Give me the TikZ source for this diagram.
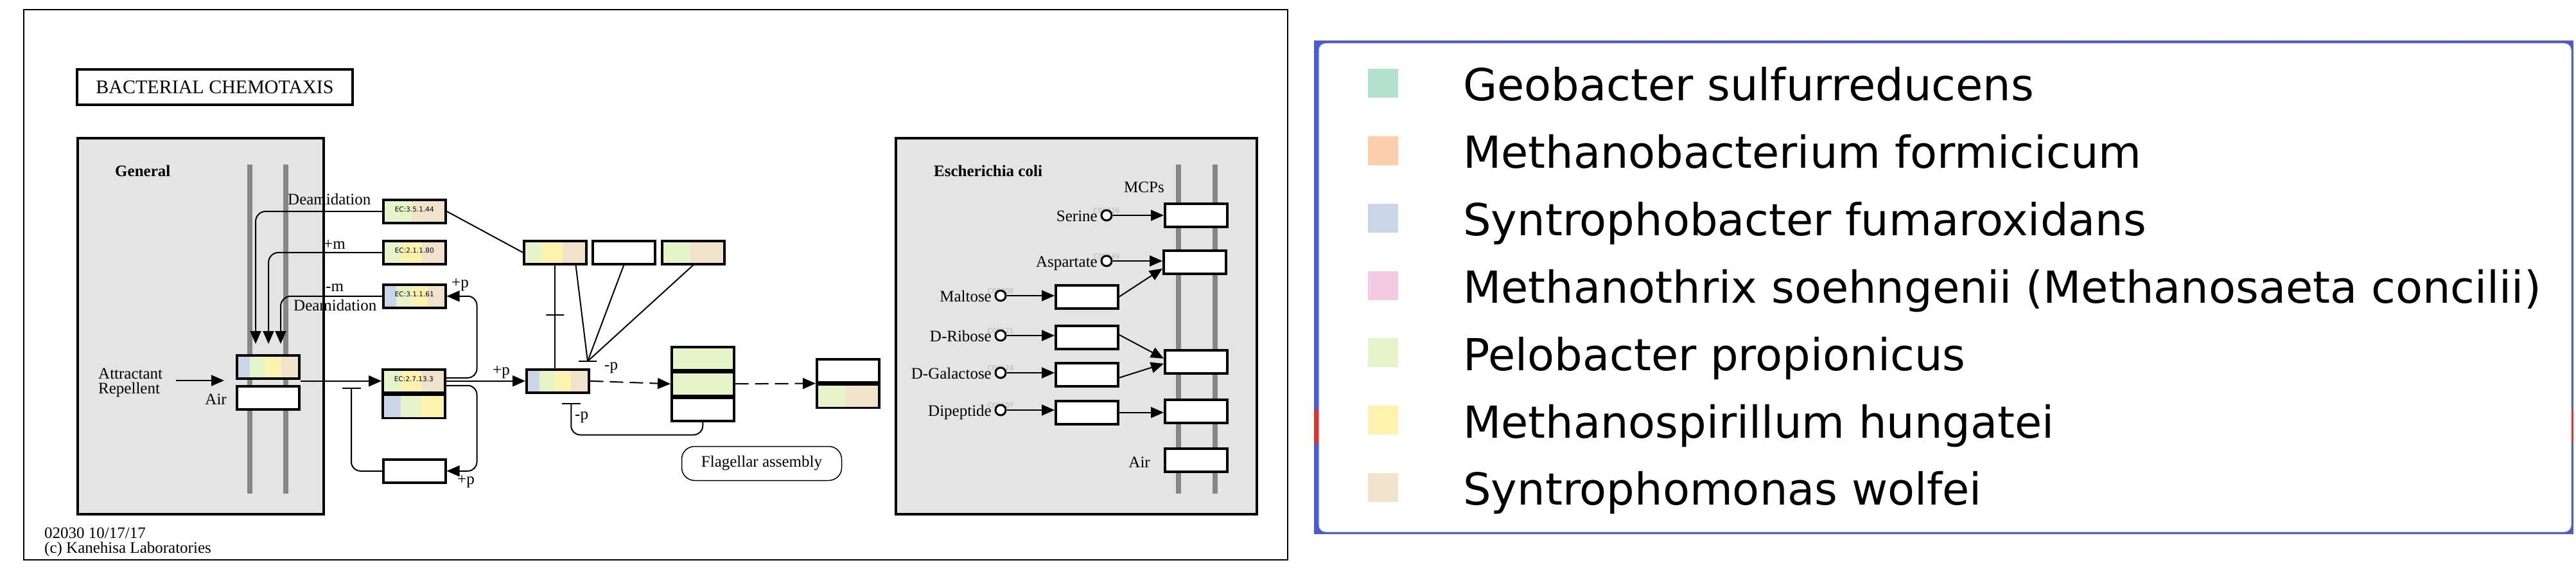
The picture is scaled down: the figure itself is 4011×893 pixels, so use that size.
\documentclass[tikz,border=0pt]{standalone}
\usepackage{fontspec}
\setmainfont{Liberation Serif}
\newfontfamily\ecfont{DejaVu Sans}
\usetikzlibrary{positioning,calc,arrows.meta}
\definecolor{sbf}{HTML}{CBD5E8}
\definecolor{pel}{HTML}{E6F5C9}
\definecolor{msp}{HTML}{FFF2AE}
\definecolor{swo}{HTML}{F1E2CC}
\definecolor{geo}{HTML}{B3E2CD}
\definecolor{mbf}{HTML}{FDCDAC}
\definecolor{mth}{HTML}{F4CAE4}
\definecolor{cellgray}{HTML}{E4E4E4}
\definecolor{membgray}{HTML}{868686}
\definecolor{legblue}{HTML}{4A5CCF}
\definecolor{legred}{HTML}{D03A34}

\begin{document}
\begin{tikzpicture}[x=1pt,y=-1pt,
  gene/.style={draw,line width=3.5pt,fill=white,minimum width=97pt,minimum height=36pt,inner sep=0pt,anchor=north west},
  stripes/.style={path picture={
    \foreach \c [count=\i] in {#1} {\xdef\nstripe{\i}}
    \foreach \c [count=\i from 0] in {#1}
      \fill[\c] ([xshift=\i*97pt/\nstripe-4pt]path picture bounding box.north west) rectangle (path picture bounding box.south east);}},
  ec/.style={font=\ecfont\fontsize{10.5}{12}\selectfont,text depth=6pt},
  cid/.style={font=\ecfont\fontsize{10.5}{12}\selectfont,text=black!30,inner sep=0pt},
  cpd/.style={circle,draw,line width=3pt,fill=white,minimum size=16pt,inner sep=0pt},
  lbl/.style={font=\fontsize{25}{30}\selectfont,inner sep=0pt},
  lblb/.style={font=\fontsize{25}{30}\selectfont\bfseries,inner sep=0pt},
  conn/.style={line width=2pt},
  tbar/.style={draw,line width=2pt,minimum width=28pt,minimum height=0pt,inner sep=0pt,outer sep=0pt},
  dsh/.style={dash pattern=on 21pt off 10pt},
  memb/.style={membgray,line width=8pt},
  >={Triangle[length=20pt,width=17pt]}]
\useasboundingbox (0,0) rectangle (4011,893);
\draw[line width=2pt] (37,15) rectangle (2005,871);
\node[draw,line width=3.5pt,minimum width=429pt,minimum height=55pt,font=\fontsize{30}{36}\selectfont] (title) at (334.5,135.5) {BACTERIAL CHEMOTAXIS};
\draw[fill=cellgray,line width=4pt] (121,215) rectangle (504,800);
\draw[fill=cellgray,line width=4pt] (1395,215) rectangle (1957,800);
\foreach \x in {389,445,1835,1892} \draw[memb] (\x,256) -- (\x,768);
\node[lblb,anchor=base west] (general) at (179,275) {General};
\node[lblb,anchor=base west] (ecoli) at (1454,275) {Escherichia coli};

\node[gene,stripes={sbf,pel,msp,swo}] (mcpG) at (367,551) {};
\node[gene] (aerG) at (367,599) {};
\node[gene,stripes={pel,swo},ec] (cheD) at (595,309) {EC:3.5.1.44};
\node[gene,stripes={pel,msp,swo},ec] (cheR) at (595,373) {EC:2.1.1.80};
\node[gene,stripes={sbf,pel,msp,swo},ec] (cheB) at (595,441) {EC:3.1.1.61};
\node[gene,stripes={pel,msp,swo},ec] (cheA) at (594,573) {EC:2.7.13.3};
\node[gene,stripes={sbf,pel,msp},below=0pt of cheA] (cheW) {};
\node[gene] (cheV) at (595,713) {};
\node[gene,stripes={sbf,pel,msp,swo}] (cheY) at (818,573) {};
\node[gene,stripes={pel,msp,swo}] (cheC) at (814,373) {};
\node[gene] (cheX) at (921,373) {};
\node[gene,stripes={pel,swo}] (cheZ) at (1029,373) {};
\node[gene,stripes={pel}] (fliG) at (1044,538) {};
\node[gene,stripes={pel},below=0pt of fliG] (fliM) {};
\node[gene,below=0pt of fliM] (fliN) {};
\node[gene] (flgA) at (1270,557) {};
\node[gene,stripes={pel,swo},below=0pt of flgA] (flgB) {};
\node[draw,line width=1.5pt,rounded corners=20pt,minimum width=249pt,minimum height=53pt,font=\fontsize{25}{30}\selectfont] (flas) at (1186,721) {Flagellar assembly};

\node[lbl,anchor=base west] (attr) at (153,589) {Attractant};
\node[lbl,anchor=base west] (repl) at (153,612) {Repellent};
\node[lbl,anchor=base east] (airG) at (353,629) {Air};
\node[lbl,anchor=base west] (deam1) at (448,318) {Deamidation};
\node[lbl,anchor=base west] (addm) at (504,387) {+m};
\node[lbl,anchor=base west] (remm) at (507,453) {-m};
\node[lbl,anchor=base west] (deam2) at (457,483) {Deamidation};
\node[lbl,anchor=base west] (pB) at (703,447) {+p};
\node[lbl,anchor=base west] (pV) at (712,753) {+p};
\node[lbl,anchor=base west] (pY) at (767,583) {+p};
\node[lbl,anchor=base west] (mpZ) at (941,575) {-p};
\node[lbl,anchor=base west] (mpN) at (895,652) {-p};

\coordinate (sig) at (274,592);
\coordinate (sigtip) at (349,592);
\draw[conn,->] (sig) -- (sigtip);
\draw[conn,->] (mcpG.south east |- cheA.west) -- (cheA.west);
\draw[conn,->,rounded corners=16pt] (cheD.west) -| ([shift={(31,-16)}]mcpG.north west);
\draw[conn,->,rounded corners=16pt] (cheR.west) -| ([shift={(51,-16)}]mcpG.north west);
\draw[conn,->,rounded corners=16pt] (cheB.west) -| ([shift={(70,-16)}]mcpG.north west);
\draw[conn,->] (cheA.east) -- (cheY.west);
\draw[conn,->,rounded corners=14pt] ([shift={(0,-5)}]cheA.east) -| ([shift={(47,0)}]cheB.east) -- (cheB.east);
\draw[conn,->,rounded corners=14pt] ([shift={(0,7)}]cheA.east) -| ([shift={(47,0)}]cheV.east) -- (cheV.east);
\coordinate (vbar) at (547,603);
\draw[conn,-{Bar[width=29pt]},rounded corners=14pt] (cheV.west) -| (vbar);
\draw[conn] (cheD.east) -- (cheC.west);
\draw[conn] (cheC.south) -- node[tbar,pos=0.48] (cbar) {} (cheC.south |- cheY.north);
\node[tbar] (zbar) at (915,562) {};
\draw[conn] ([shift={(-18,0)}]cheC.south east) -- (zbar.center);
\draw[conn] (cheX.south) -- (zbar.center);
\draw[conn] (cheZ.south) -- (zbar.center);
\draw[conn,dsh,->] (cheY.east) -- (fliM.west);
\draw[conn,dsh,->] (fliM.east) -- (flgA.south west);
\coordinate (ybar) at ([shift={(21,14)}]cheY.south);
\draw[conn,-{Bar[width=29pt]},rounded corners=14pt] (fliN.south) |- ($(ybar)+(0,50)$) -- (ybar);

\node[lbl,anchor=base west] (mcps) at (1750,299) {MCPs};
\node[lbl,anchor=base east] (airE) at (1791,727) {Air};
\node[gene] (tsr) at (1812,315) {};
\node[gene] (tar) at (1810,388) {};
\node[gene] (trg) at (1812,543) {};
\node[gene] (tap) at (1812,620) {};
\node[gene] (aerE) at (1812,696) {};
\node[gene] (malE) at (1642,442) {};
\node[gene] (rbsB) at (1642,505) {};
\node[gene] (mglB) at (1642,563) {};
\node[gene] (dppA) at (1642,622) {};
\foreach \n/\x/\y/\t/\id in {ser/1723/335/Serine/C00716,asp/1723/406/Aspartate/C00049,mal/1558/460/Maltose/C00208,rib/1558/522/D-Ribose/C00121,gal/1558/580/D-Galactose/C00124,dip/1558/638/Dipeptide/C00107} {
  \node[cid] (\n-id) at (\x,\y-7) {\id};
  \node[cpd] (\n) at (\x,\y) {};
  \node[lbl,anchor=base east] (\n-lbl) at (\x-14,\y+9) {\t};
}
\draw[conn,->] (ser) -- (ser -| tsr.west);
\draw[conn,->] (asp) -- (asp -| tar.west);
\draw[conn,->] (mal) -- (mal -| malE.west);
\draw[conn,->] (rib) -- (rib -| rbsB.west);
\draw[conn,->] (gal) -- (gal -| mglB.west);
\draw[conn,->] (dip) -- (dip -| dppA.west);
\draw[conn,->] (malE.east) -- ([shift={(0,10)}]tar.west);
\draw[conn,->] ([shift={(0,-4)}]rbsB.east) -- ([shift={(0,-5)}]trg.west);
\draw[conn,->] ([shift={(0,5)}]mglB.east) -- ([shift={(0,3)}]trg.west);
\draw[conn,->] (dppA.east) -- (dppA.east -| tap.west);

\node[lbl,anchor=base west] (code) at (69,837) {02030 10/17/17};
\node[lbl,anchor=base west] (copy) at (69,860) {(c) Kanehisa Laboratories};

\fill[legblue] (2046,63) rectangle (4007,831);
\fill[legred] (2046,637) rectangle (4007,690);
\draw[fill=white,draw=black!10,line width=1.5pt,rounded corners=10pt] (2054,68) rectangle (4003,827);
\foreach \c/\t [count=\k from 0] in {geo/Geobacter sulfurreducens,mbf/Methanobacterium formicicum,sbf/Syntrophobacter fumaroxidans,mth/Methanothrix soehngenii (Methanosaeta concilii),pel/Pelobacter propionicus,msp/Methanospirillum hungatei,swo/Syntrophomonas wolfei} {
  \node[fill=\c,minimum width=47pt,minimum height=45pt,inner sep=0pt,anchor=north west] (key\k) at (2130,107+104.8*\k) {};
  \node[font=\ecfont\fontsize{68.7}{80}\selectfont,inner sep=0pt,anchor=base west] (name\k) at (2278,157+104.8*\k) {\t};
}
\end{tikzpicture}
\end{document}
